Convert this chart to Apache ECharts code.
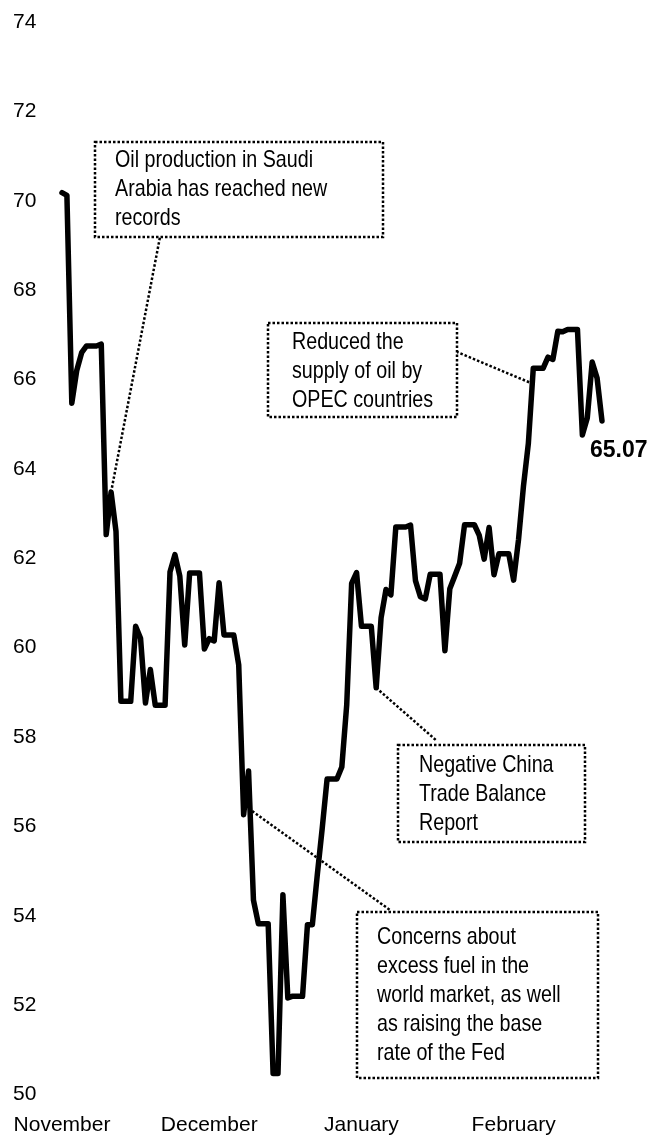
<!DOCTYPE html>
<html lang="en">

<head>
    <meta charset="UTF-8">
    <script src="https://cdn.jsdelivr.net/npm/echarts@6/dist/echarts.min.js"></script>
    <title>Oil price</title>
    <style>
        html, body { margin: 0; padding: 0; background: #fff; }
        #chart { width: 648px; height: 1136px; }
    </style>
</head>

<body>
    <div id="chart"></div>

    <script>
        // one value per calendar day, weekends / holidays repeat the last close
        var startDate = '2018-11-11';
        var prices = [
            70.18, 70.12, 65.47, 66.2, 66.6, 66.75, 66.75, 66.75, 66.79, 62.53,
            63.48, 62.6, 58.8, 58.8, 58.8, 60.48, 60.21, 58.76, 59.51, 58.71,
            58.71, 58.71, 61.69, 62.08, 61.6, 60.06, 61.67, 61.67, 61.67, 59.97,
            60.2, 60.15, 61.45, 60.28, 60.28, 60.28, 59.61, 56.26, 57.24, 54.35,
            53.82, 53.82, 53.82, 50.47, 50.47, 54.47, 52.16, 52.2, 52.2, 52.2,
            53.8, 53.8, 54.91, 55.95, 57.06, 57.06, 57.06, 57.33, 58.72, 61.44,
            61.68, 60.48, 60.48, 60.48, 59.1, 60.67, 61.3, 61.18, 62.7, 62.7,
            62.7, 62.74, 61.5, 61.14, 61.09, 61.64, 61.64, 61.64, 59.93, 61.32,
            61.6, 61.89, 62.75, 62.75, 62.75, 62.51, 61.98, 62.69, 61.63, 62.1,
            62.1, 62.1, 61.51, 62.42, 63.61, 64.57, 66.25, 66.25, 66.25, 66.5,
            66.45, 67.08, 67.07, 67.12, 67.12, 67.12, 64.76, 65.14, 66.39, 66.03,
            65.07
        ];
        // month labels sit on the 11th of each month
        var tickDates = ['2018-11-11', '2018-12-11', '2019-01-11', '2019-02-11'];
        var monthLabels = ['November', 'December', 'January', 'February'];
        var yTicks = { min: 50, max: 74, step: 2 };

        // notes: text, box [x, y, w, h], text origin, where the leader touches the box, and the point it refers to
        var notes = [
            { text: 'Oil production in Saudi\nArabia has reached new\nrecords', box: [95, 142, 288, 95], pad: [115, 146], from: [160, 237], day: 10, value: 63.48 },
            { text: 'Reduced the\nsupply of oil by\nOPEC countries', box: [268, 323, 189, 94], pad: [292, 328], from: [457, 352], day: 96, value: 65.9 },
            { text: 'Negative China\nTrade Balance\nReport', box: [398, 745, 187, 97], pad: [419, 751], from: [437, 741], day: 64, value: 59.1 },
            { text: 'Concerns about\nexcess fuel in the\nworld market, as well\nas raising the base\nrate of the Fed', box: [357, 912, 241, 166], pad: [377, 923], from: [390, 910], day: 38, value: 56.4 }
        ];

        var font = "'Liberation Sans', Arial, sans-serif";

        // category per day
        var dates = [];
        var d0 = new Date(startDate + 'T00:00:00Z');
        for (var i = 0; i < prices.length; i++) {
            var d = new Date(d0.getTime() + i * 86400000);
            dates.push(d.toISOString().substring(0, 10));
        }

        var leaderData = notes.map(function (n) {
            return [
                { coord: [dates[n.day], n.value] },
                { x: n.from[0], y: n.from[1] }
            ];
        });

        var graphics = [];
        notes.forEach(function (n) {
            graphics.push({
                type: 'rect',
                shape: { x: n.box[0], y: n.box[1], width: n.box[2], height: n.box[3] },
                style: { fill: '#fff', stroke: '#000', lineWidth: 2.5, lineDash: [2.5, 2] },
                z: 10
            });
            // narrow look: squeeze the text horizontally
            graphics.push({
                type: 'text',
                x: n.pad[0],
                y: n.pad[1],
                scaleX: 0.82,
                style: {
                    text: n.text, fill: '#000', font: '24px ' + font,
                    lineHeight: 29, verticalAlign: 'top', align: 'left'
                },
                z: 11
            });
        });

        var myChart = echarts.init(document.getElementById('chart'));
        var option = {
            animation: false,
            grid: { left: 62, right: 46, top: 22, bottom: 41.5, containLabel: false },
            xAxis: {
                type: 'category',
                data: dates,
                boundaryGap: false,
                axisLine: { show: false },
                axisTick: { show: false },
                splitLine: { show: false },
                axisLabel: {
                    interval: function (index, value) { return tickDates.indexOf(value) >= 0; },
                    formatter: function (value) { return monthLabels[tickDates.indexOf(value)]; },
                    color: '#000', fontSize: 21, fontFamily: font, margin: 20
                }
            },
            yAxis: {
                type: 'value',
                min: yTicks.min, max: yTicks.max, interval: yTicks.step,
                axisLine: { show: false },
                axisTick: { show: false },
                splitLine: { show: false },
                axisLabel: { color: '#000', fontSize: 21, fontFamily: font, align: 'left', margin: 49 }
            },
            series: [{
                type: 'line',
                data: prices,
                symbol: 'none',
                lineStyle: { color: '#000', width: 5.5, join: 'round', cap: 'round' },
                endLabel: {
                    show: true,
                    formatter: function (p) { return p.value.toFixed(2); },
                    color: '#000', fontSize: 23, fontWeight: 'bold', fontFamily: font,
                    offset: [-20, 30]
                },
                markLine: {
                    silent: true,
                    symbol: ['none', 'none'],
                    label: { show: false },
                    lineStyle: { color: '#000', width: 2.5, type: [2.5, 2] },
                    data: leaderData
                }
            }],
            graphic: graphics
        };
        myChart.setOption(option);
    </script>

</body>

</html>
